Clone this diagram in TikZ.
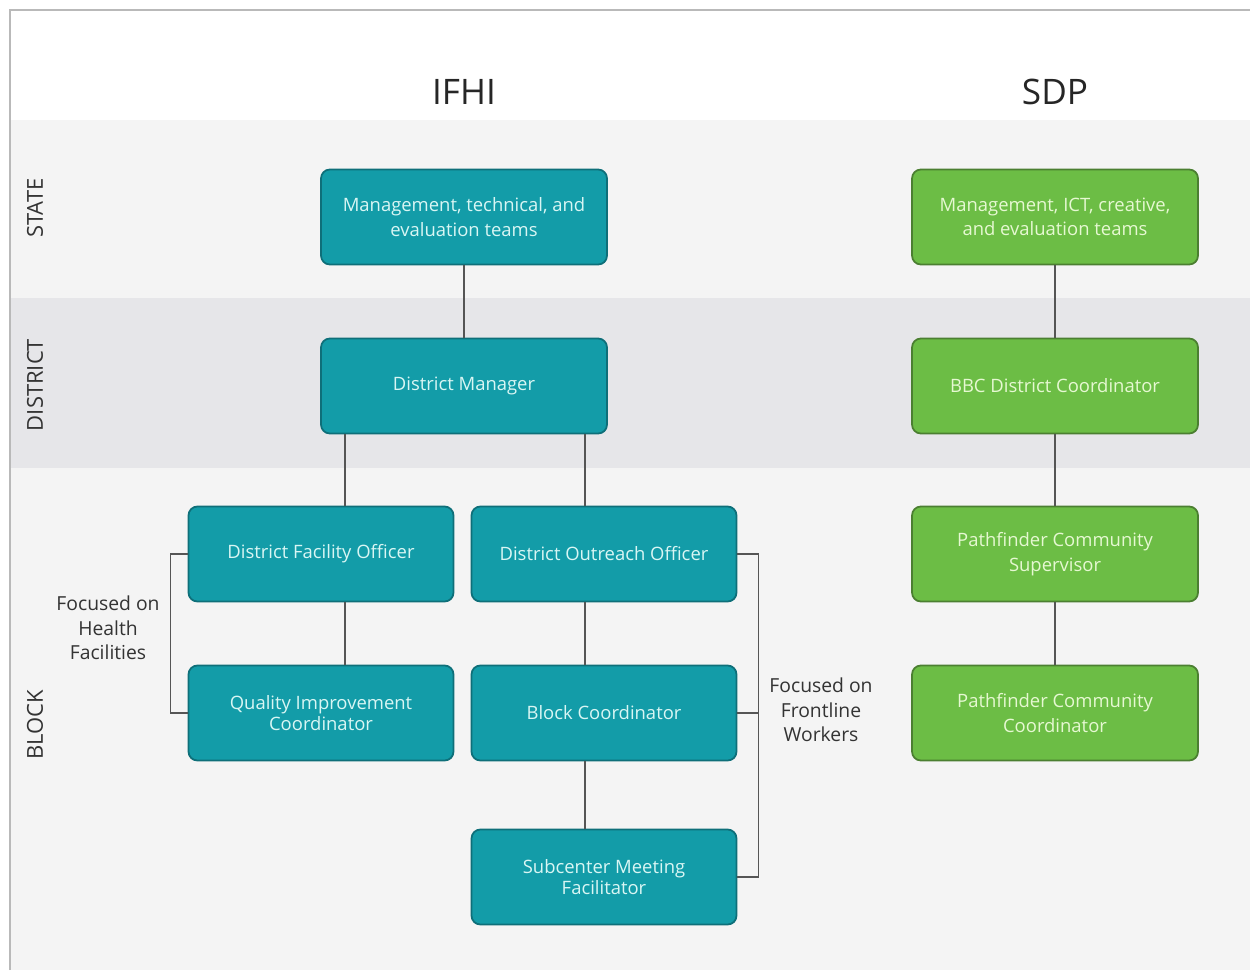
\documentclass[tikz,border=0pt]{standalone}
\usepackage{fontspec}
\setmainfont{Open Sans}
\usetikzlibrary{calc}

\definecolor{tealbox}{HTML}{139CA8}
\definecolor{tealedge}{HTML}{0E6F79}
\definecolor{tealtext}{HTML}{D9F6F4}
\definecolor{greenbox}{HTML}{6CBD45}
\definecolor{greenedge}{HTML}{4B7F31}
\definecolor{greentext}{HTML}{E6F8D2}
\definecolor{bandlight}{HTML}{F4F4F4}
\definecolor{banddark}{HTML}{E6E6E9}
\definecolor{linkgray}{HTML}{555555}

\begin{document}
\begin{tikzpicture}[x=0.02cm,y=-0.02cm,
  ifhibox/.style={draw=tealedge,fill=tealbox,text=tealtext,line width=1pt,
    rounded corners=5pt,minimum width=5.72cm,minimum height=1.9cm,
    align=center,inner sep=2pt,font=\fontsize{10.5}{14}\selectfont},
  smallbox/.style={ifhibox,minimum width=5.30cm},
  sdpbox/.style={ifhibox,draw=greenedge,fill=greenbox,text=greentext},
  link/.style={draw=linkgray,line width=0.9pt},
  level/.style={rotate=90,text=black!80,font=\fontsize{12.5}{14}\selectfont},
  note/.style={align=center,text=black!80,font=\fontsize{11}{14}\selectfont},
  head/.style={text=black!85,font=\fontsize{20}{24}\selectfont}]
  % background bands
  \useasboundingbox (0,0) rectangle (1250,970);
  \fill[white] (0,0) rectangle (1250,970);
  \fill[bandlight] (10,120) rectangle (1250,298);
  \fill[banddark] (10,298) rectangle (1250,468);
  \fill[bandlight] (10,468) rectangle (1250,970);
  \draw[gray!55,line width=1pt] (10,970) -- (10,10) -- (1250,10);
  % level labels
  \node[level] (state) at (35,208) {STATE};
  \node[level] (district) at (35,385) {DISTRICT};
  \node[level] (block) at (35,725) {BLOCK};
  % column headings
  \node[head] (ifhi) at (464,92) {IFHI};
  \node[head] (sdp) at (1055,92) {SDP};
  % IFHI boxes
  \node[ifhibox] (ifhiteam) at (464,217) {Management, technical, and\\evaluation teams};
  \node[ifhibox] (dm) at (464,386) {District Manager};
  \node[smallbox] (dfo) at (321,554) {District Facility Officer};
  \node[smallbox] (doo) at (604,554) {District Outreach Officer};
  \node[smallbox] (qic) at (321,713) {Quality Improvement\\[-2.5pt]Coordinator};
  \node[smallbox] (bc) at (604,713) {Block Coordinator};
  \node[smallbox] (smf) at (604,877) {Subcenter Meeting\\[-2.5pt]Facilitator};
  % SDP boxes
  \node[sdpbox] (sdpteam) at (1055,217) {Management, ICT, creative,\\and evaluation teams};
  \node[sdpbox] (bbc) at (1055,386) {BBC District Coordinator};
  \node[sdpbox] (pcs) at (1055,554) {Pathfinder Community\\Supervisor};
  \node[sdpbox] (pcc) at (1055,713) {Pathfinder Community\\Coordinator};
  % IFHI links
  \draw[link] (ifhiteam) -- (dm);
  \draw[link] (dm.south -| 345,0) -- (dfo.north -| 345,0);
  \draw[link] (dm.south -| 585,0) -- (doo.north -| 585,0);
  \draw[link] (dfo.south -| 345,0) -- (qic.north -| 345,0);
  \draw[link] (doo.south -| 585,0) -- (bc.north -| 585,0);
  \draw[link] (bc.south -| 585,0) -- (smf.north -| 585,0);
  % SDP links
  \draw[link] (sdpteam) -- (bbc);
  \draw[link] (bbc) -- (pcs);
  \draw[link] (pcs) -- (pcc);
  % brackets
  \draw[link] (dfo.west) -- ++(-17,0) |- (qic.west);
  \draw[link] (doo.east) -- ++(21,0) |- (smf.east);
  \draw[link] (bc.east) -- ++(21,0);
  \node[note] (health) at (108,628) {Focused on\\Health\\Facilities};
  \node[note] (frontline) at (821,710) {Focused on\\Frontline\\Workers};
\end{tikzpicture}
\end{document}
